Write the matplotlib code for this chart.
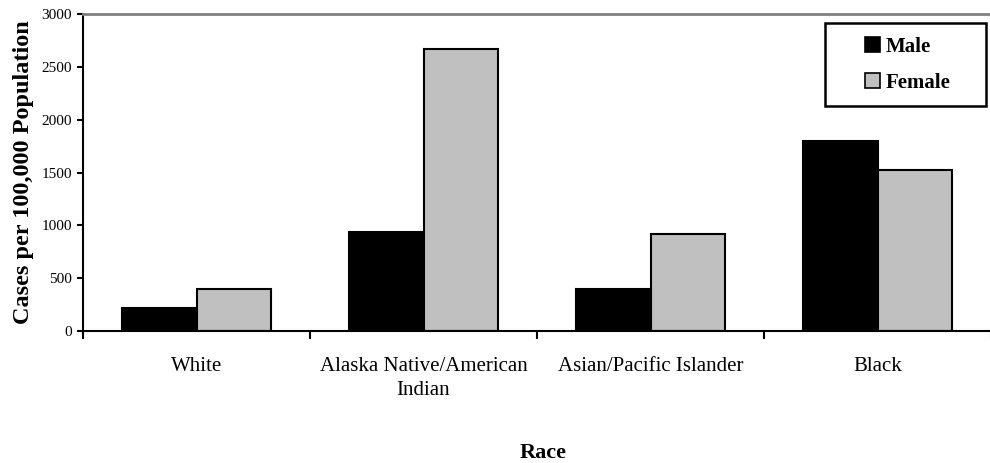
import matplotlib.pyplot as plt
import numpy as np
from matplotlib.patches import Patch, Rectangle

races = ["White", "Alaska Native/American\nIndian", "Asian/Pacific Islander", "Black"]
male = [220, 940, 400, 1800]
female = [400, 2670, 915, 1520]

plt.rcParams["font.family"] = ["Liberation Serif", "DejaVu Serif"]

W, H = 990, 463
fig = plt.figure(figsize=(W / 100, H / 100), dpi=100)
ax = fig.add_axes([83 / W, 1 - 331 / H, 908 / W, 317 / H])

x = np.arange(len(races))
w = 0.33
ax.bar(x - w / 2, male, w, color="black", edgecolor="black", linewidth=1.5)
ax.bar(x + w / 2, female, w, color="#c0c0c0", edgecolor="black", linewidth=1.5)

ax.set_xlim(-0.5, len(races) - 0.5)
ax.set_ylim(0, 3000)
ax.set_yticks(range(0, 3001, 500))
ax.tick_params(axis="y", labelsize=11, length=4.5, width=1.5, pad=3.5)

# category boundaries get the tick marks, centers get the labels
ax.set_xticks(np.arange(-0.5, len(races), 1.0))
ax.set_xticklabels([])
ax.set_xticks(x, minor=True)
ax.set_xticklabels(races, minor=True, fontsize=15, linespacing=1.37)
ax.tick_params(axis="x", which="major", length=6, width=1.5, direction="out")
ax.tick_params(axis="x", which="minor", length=0, pad=18.6)

for side in ("left", "bottom"):
    ax.spines[side].set_linewidth(1.5)
ax.spines["right"].set_visible(False)
ax.spines["top"].set_color("#808080")
ax.spines["top"].set_linewidth(2)

ax.set_ylabel("Cases per 100,000 Population", fontsize=17.5, fontweight="bold", labelpad=5)
fig.text(543 / W, 1 - 458 / H, "Race", fontsize=16, fontweight="bold",
         ha="center", va="baseline")

handles = [
    Patch(facecolor="black", edgecolor="black", linewidth=1.2),
    Patch(facecolor="#c0c0c0", edgecolor="black", linewidth=1.2),
]
leg = fig.legend(
    handles, ["Male", "Female"],
    loc="upper left", bbox_to_anchor=(865 / W, 1 - 37 / H),
    prop={"weight": "bold", "size": 15},
    frameon=False,
    handlelength=0.72, handleheight=0.72, handletextpad=0.25,
    labelspacing=0.75, borderpad=0, borderaxespad=0,
)

# legend box
fig.add_artist(Rectangle((825 / W, 1 - 106 / H), 161 / W, 83 / H,
                         transform=fig.transFigure, fill=False,
                         edgecolor="black", linewidth=1.8))

fig.savefig("out.png", dpi=100)
